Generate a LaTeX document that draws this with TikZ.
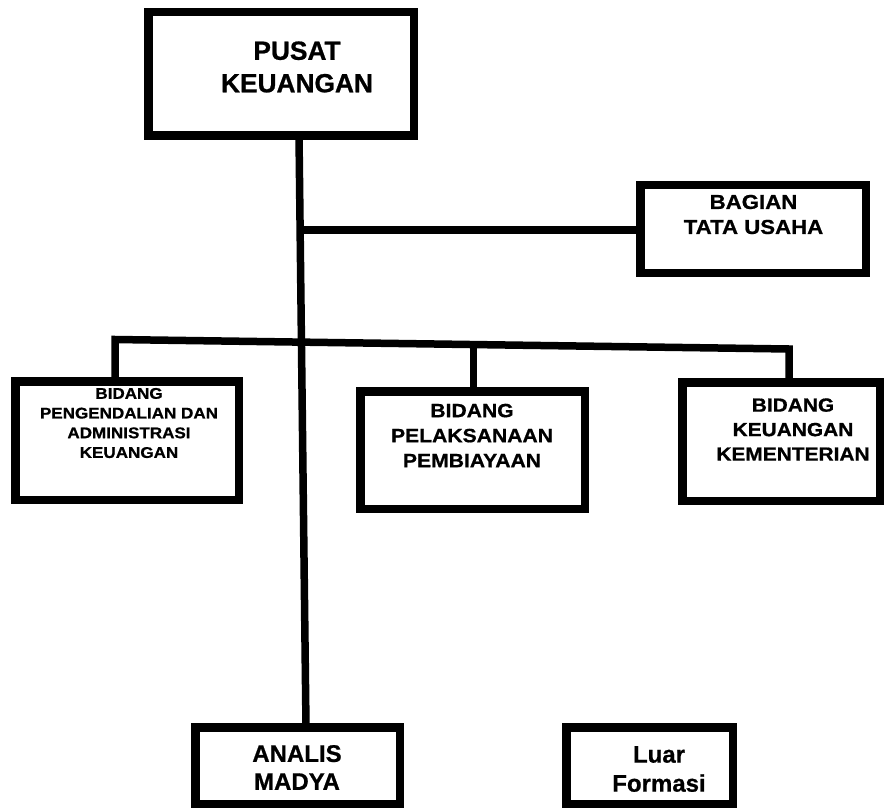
\documentclass[tikz,border=0pt]{standalone}
\usepackage{fontspec}
\setmainfont{Liberation Sans}
\newfontfamily\heavyfont[FakeBold=0.8]{Liberation Sans Bold}
\newfontfamily\widefont[FakeBold=0.8,FakeStretch=1.1]{Liberation Sans Bold}
\usetikzlibrary{calc}
\begin{document}
\begin{tikzpicture}[x=1pt,y=-1pt,
  box/.style={draw=black, line width=8.5pt, inner sep=0pt},
  conn/.style={draw=black, line width=7.5pt},
  lbl/.style={inner sep=0pt, align=center, text=black}]
\useasboundingbox (0,0) rectangle (885,810);
% boxes
\node[box, minimum width=265.5pt, minimum height=123.5pt] (top) at (281,74) {};
\node[box, minimum width=225.5pt, minimum height=87.5pt] (bagian) at (753,229) {};
\node[box, minimum width=223.5pt, minimum height=118.5pt] (peng) at (127,440.5) {};
\node[box, minimum width=224.5pt, minimum height=117.5pt] (pelak) at (472.5,450) {};
\node[box, minimum width=197.5pt, minimum height=118.5pt] (keu) at (781,441.5) {};
\node[box, minimum width=204.5pt, minimum height=76.5pt] (analis) at (297.5,765.5) {};
\node[box, minimum width=166.5pt, minimum height=76.5pt] (luar) at (649.5,765.5) {};
% labels
\node[lbl, font=\heavyfont\fontsize{26.3}{32.5}\selectfont] (ttop) at (297,67) {PUSAT\\KEUANGAN};
\node[lbl, font=\widefont\fontsize{20.2}{25}\selectfont] (tbagian) at (753.5,214.5) {BAGIAN\\TATA USAHA};
\node[lbl, font=\widefont\fontsize{15.5}{19.7}\selectfont] (tpeng) at (129,423) {BIDANG\\PENGENDALIAN DAN\\ADMINISTRASI\\KEUANGAN};
\node[lbl, font=\widefont\fontsize{19.2}{25}\selectfont] (tpelak) at (472,435.5) {BIDANG\\PELAKSANAAN\\PEMBIAYAAN};
\node[lbl, font=\widefont\fontsize{19}{24.5}\selectfont] (tkeu) at (793,429.5) {BIDANG\\KEUANGAN\\KEMENTERIAN};
\node[lbl, font=\heavyfont\fontsize{24}{28}\selectfont] (tanalis) at (297,767.5) {ANALIS\\MADYA};
\node[lbl, font=\heavyfont\fontsize{24}{29}\selectfont] (tluar) at (659,769) {Luar\\Formasi};
% connectors
\coordinate (trunkA) at (299,136);
\coordinate (trunkB) at (306,727);
\draw[conn] (trunkA) -- (trunkB);
\coordinate (j1) at (300,230.5);
\draw[conn, line width=8pt] (j1) -- (j1 -| bagian.west);
\coordinate (hl) at (115,339.5);
\coordinate (hr) at (789,349);
\draw[conn] (peng.north -| hl) -- (hl) -- (hr) -- (keu.north -| hr);
\coordinate (hm) at ($(hl)!0.532!(hr)$);
\draw[conn] (hm) -- (hm |- pelak.north);
\end{tikzpicture}
\end{document}
